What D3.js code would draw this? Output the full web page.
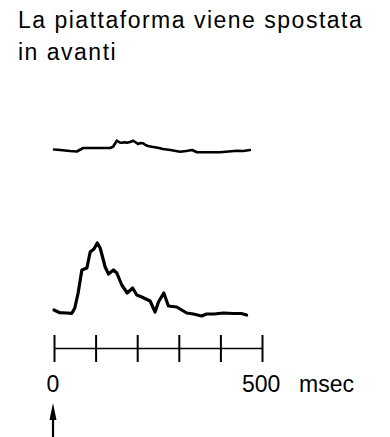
<!DOCTYPE html>
<html>
<head>
<meta charset="utf-8">
<script src="https://cdn.jsdelivr.net/npm/d3@7"></script>
<style>
  html, body { margin: 0; padding: 0; background: #fff; }
  svg { display: block; }
  text { font-family: "Liberation Sans", Arial, Helvetica, sans-serif; fill: #000; }
</style>
</head>
<body>
<svg id="chart" width="390" height="437"></svg>
<script>
// Title lines
const titleLines = ["La piattaforma viene spostata", "in avanti"];

// Time base (msec) and tick marks
const timeTicks = [0, 100, 200, 300, 400, 500];
const axisLabels = [{ t: 0, text: "0" }, { t: 500, text: "500" }];
const unitLabel = "msec";

// Upper EMG trace: time (msec) and amplitude (arbitrary units)
const upperTime = [0, 15, 38, 55, 70, 100, 135, 142, 151, 158, 163, 170, 175, 183, 190, 197, 202, 208, 214, 220, 226, 235, 243, 252, 262, 280, 303, 318, 332, 344, 370, 399, 420, 440, 455, 471];
const upperAmp  = [0.5, 0, -1, -1.5, 2, 2, 2, 3.3, 9.3, 7.5, 7.3, 7.8, 7.3, 8, 9.3, 7.5, 6, 7, 6.7, 5, 4, 3.2, 2.7, 2, 1, 0, -1.7, -1, 0, -2.3, -2.3, -2.3, -1.5, -0.7, -1, 0];

// Lower EMG trace: time (msec) and amplitude (arbitrary units)
const lowerTime = [0, 14, 30, 43, 50, 58, 67, 79, 87, 96, 104, 111, 123, 131, 143, 151, 163, 176, 189, 199, 211, 221, 231, 243, 251, 264, 275, 295, 319, 335, 355, 367, 385, 407, 430, 450, 463];
const lowerAmp  = [4, 1.3, 1, 0.7, 6, 21, 44, 46, 62, 65, 71, 66, 47, 40, 44, 41, 29, 21, 26, 19, 17, 15, 13, 2, 12, 21, 8, 7, 1, 0, -2, 0, 0, 1, 0.5, 0.5, -1];

const svg = d3.select("#chart");

// Horizontal time scale shared by both traces and the time bar
const x = d3.scaleLinear().domain([0, 500]).range([54, 262]);

// Each trace has its own baseline; 1 unit = 1 px
const yUpper = d3.scaleLinear().domain([0, 20]).range([150, 130]);
const yLower = d3.scaleLinear().domain([0, 80]).range([314, 234]);

// Title
svg.append("g").selectAll("text")
  .data(titleLines)
  .join("text")
  .attr("x", 18)
  .attr("y", (d, i) => 28 + i * 32)
  .attr("font-size", 23)
  .attr("letter-spacing", 1.5)
  .text(d => d);

function drawTrace(times, amps, yScale, width) {
  const pts = times.map((t, i) => [t, amps[i]]);
  const line = d3.line()
    .x(d => x(d[0]))
    .y(d => yScale(d[1]))
    .curve(d3.curveLinear);
  svg.append("path")
    .datum(pts)
    .attr("d", line)
    .attr("fill", "none")
    .attr("stroke", "#000")
    .attr("stroke-width", width)
    .attr("stroke-linejoin", "round")
    .attr("stroke-linecap", "round");
}

drawTrace(upperTime, upperAmp, yUpper, 2.6);
drawTrace(lowerTime, lowerAmp, yLower, 3.2);

// Time bar with ticks crossing the line
const axisY = 348;
const axisG = svg.append("g")
  .attr("transform", `translate(0,${axisY})`)
  .call(d3.axisBottom(x).tickValues(timeTicks).tickSizeOuter(0).tickFormat(""));
axisG.select(".domain").attr("stroke", "#000").attr("stroke-width", 1.4);
axisG.selectAll(".tick line")
  .attr("y1", -13)
  .attr("y2", 14)
  .attr("stroke", "#000")
  .attr("stroke-width", 2);

// Time labels
svg.append("g").selectAll("text")
  .data(axisLabels)
  .join("text")
  .attr("x", d => d.t === 0 ? x(d.t) - 1 : x(d.t) - 20)
  .attr("y", 392)
  .attr("font-size", 23)
  .attr("text-anchor", d => d.t === 0 ? "middle" : "start")
  .text(d => d.text);

svg.append("text")
  .attr("x", 299)
  .attr("y", 392)
  .attr("font-size", 23)
  .text(unitLabel);

// Stimulus onset arrow
const ax = x(0) - 1;
svg.append("line")
  .attr("x1", ax).attr("x2", ax)
  .attr("y1", 414).attr("y2", 437)
  .attr("stroke", "#000")
  .attr("stroke-width", 2.2);
svg.append("path")
  .attr("d", `M${ax},403 L${ax - 3.5},420 L${ax + 3.5},420 Z`)
  .attr("fill", "#000");
</script>
</body>
</html>
